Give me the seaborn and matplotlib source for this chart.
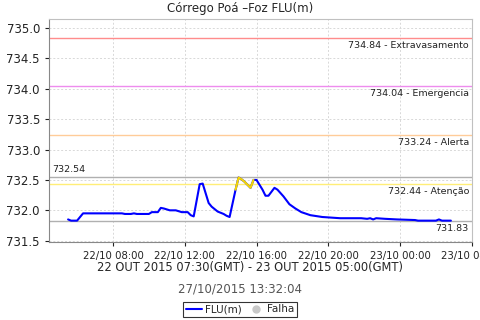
import pandas as pd
import matplotlib
matplotlib.use("Agg")
import matplotlib.pyplot as plt
import matplotlib.dates as mdates
from matplotlib.lines import Line2D
import seaborn as sns

# leituras do nivel (hora local)
times = [
    "2015-10-22 05:30", "2015-10-22 05:40", "2015-10-22 06:00", "2015-10-22 06:20",
    "2015-10-22 08:30", "2015-10-22 08:40", "2015-10-22 09:00", "2015-10-22 09:10",
    "2015-10-22 09:20", "2015-10-22 10:00", "2015-10-22 10:10", "2015-10-22 10:30",
    "2015-10-22 10:40", "2015-10-22 10:50", "2015-10-22 11:10", "2015-10-22 11:30",
    "2015-10-22 11:50", "2015-10-22 12:10", "2015-10-22 12:20", "2015-10-22 12:30",
    "2015-10-22 12:50", "2015-10-22 13:00", "2015-10-22 13:20", "2015-10-22 13:30",
    "2015-10-22 13:50", "2015-10-22 14:10", "2015-10-22 14:20", "2015-10-22 14:30",
    "2015-10-22 14:50", "2015-10-22 15:00", "2015-10-22 15:10", "2015-10-22 15:20",
    "2015-10-22 15:40", "2015-10-22 15:50", "2015-10-22 16:00", "2015-10-22 16:20",
    "2015-10-22 16:30", "2015-10-22 16:40", "2015-10-22 17:00", "2015-10-22 17:10",
    "2015-10-22 17:30", "2015-10-22 17:50", "2015-10-22 18:10", "2015-10-22 18:30",
    "2015-10-22 19:00", "2015-10-22 19:40", "2015-10-22 20:40", "2015-10-22 21:50",
    "2015-10-22 22:10", "2015-10-22 22:20", "2015-10-22 22:30", "2015-10-22 22:40",
    "2015-10-22 23:10", "2015-10-22 23:50", "2015-10-23 00:50", "2015-10-23 01:00",
    "2015-10-23 02:00", "2015-10-23 02:10", "2015-10-23 02:20", "2015-10-23 02:50",
]
levels = [
    731.85, 731.83, 731.83, 731.95,
    731.95, 731.94, 731.94, 731.95,
    731.94, 731.94, 731.97, 731.97,
    732.04, 732.03, 732.00, 732.00,
    731.97, 731.97, 731.92, 731.90,
    732.43, 732.44, 732.12, 732.06,
    731.98, 731.94, 731.91, 731.89,
    732.34, 732.54, 732.51, 732.47,
    732.37, 732.50, 732.50, 732.34,
    732.24, 732.24, 732.37, 732.34,
    732.23, 732.10, 732.03, 731.97,
    731.92, 731.89, 731.87, 731.87,
    731.86, 731.87, 731.85, 731.87,
    731.86, 731.85, 731.84, 731.83,
    731.83, 731.85, 731.83, 731.83,
]
# trecho desenhado em amarelo (indices)
yellow_start, yellow_end = 28, 33

# cotas de referencia
ref_values = [734.84, 734.04, 733.24, 732.44]
ref_names = ["Extravasamento", "Emergencia", "Alerta", "Atenção"]
ref_colors = ["#ff8c8c", "#ee8cee", "#ffcc99", "#ffee77"]

df = pd.DataFrame({"time": pd.to_datetime(times), "level": levels})
yel = df.iloc[yellow_start:yellow_end + 1]

sns.set_style("white")
fig = plt.figure(figsize=(4.8, 3.2), dpi=100)
ax = fig.add_axes([0.102, 0.244, 0.881, 0.697])

for v, c in zip(ref_values, ref_colors):
    ax.axhline(v, color=c, lw=1.0, zorder=1)
ax.axhline(max(levels), color="#b0b0b0", lw=1.0, zorder=1)
ax.axhline(min(levels), color="#b0b0b0", lw=1.0, zorder=1)

sns.lineplot(data=df, x="time", y="level", color="#0000ff", lw=1.5, ax=ax, zorder=3)
sns.lineplot(data=yel, x="time", y="level", color="#f5d800", lw=1.5, ax=ax, zorder=4)

trans = ax.get_yaxis_transform()
for v, n in zip(ref_values, ref_names):
    ax.text(0.993, v - 0.05, f"{v:.2f} - {n}", transform=trans, ha="right", va="top",
            fontsize=6.8, color="#222222")
ax.text(0.008, max(levels) + 0.05, f"{max(levels):.2f}", transform=trans, ha="left",
        va="bottom", fontsize=6.8, color="#222222")
ax.text(0.993, min(levels) - 0.05, f"{min(levels):.2f}", transform=trans, ha="right",
        va="top", fontsize=6.8, color="#222222")

ax.set_xlim(pd.Timestamp("2015-10-22 04:26"), pd.Timestamp("2015-10-23 04:00"))
ax.set_ylim(731.48, 735.15)
ax.set_yticks([731.5, 732.0, 732.5, 733.0, 733.5, 734.0, 734.5, 735.0])
ax.yaxis.set_major_formatter(matplotlib.ticker.FormatStrFormatter("%.1f"))
ax.xaxis.set_major_locator(mdates.HourLocator(byhour=[0, 4, 8, 12, 16, 20]))
ax.xaxis.set_major_formatter(mdates.DateFormatter("%d/%m %H:%M"))
ax.tick_params(axis="both", colors="#222222", length=3, width=0.8,
               direction="out", left=True, bottom=True)
ax.tick_params(axis="y", labelsize=8.5)
ax.tick_params(axis="x", labelsize=7.3)
ax.grid(True, color="#d8d8d8", ls=(0, (2, 2)), lw=0.7)
ax.set_xlabel("")
ax.set_ylabel("")
for s in ["left", "bottom"]:
    ax.spines[s].set_color("#888888")
for s in ["top", "right"]:
    ax.spines[s].set_color("#c0c0c0")

fig.text(0.5, 0.972, "Córrego Poá –Foz FLU(m)", ha="center", va="center", fontsize=8.5)
fig.text(0.52, 0.163, "22 OUT 2015 07:30(GMT) - 23 OUT 2015 05:00(GMT)", ha="center",
         va="center", fontsize=8.3)
fig.text(0.5, 0.097, "27/10/2015 13:32:04", ha="center", va="center", fontsize=8.5,
         color="#555555")

handles = [Line2D([0], [0], color="#0000ff", lw=1.5),
           Line2D([0], [0], marker="o", ls="", color="#c8c8c8", markersize=5)]
leg = fig.legend(handles, ["FLU(m)", "Falha"], loc="center", bbox_to_anchor=(0.5, 0.033),
                 ncol=2, fontsize=7.5, frameon=True, fancybox=False, handlelength=1.6,
                 handletextpad=0.3, columnspacing=0.5, borderpad=0.25)
leg.get_frame().set_edgecolor("black")
leg.get_frame().set_linewidth(0.8)

fig.savefig("out.png", dpi=100)
